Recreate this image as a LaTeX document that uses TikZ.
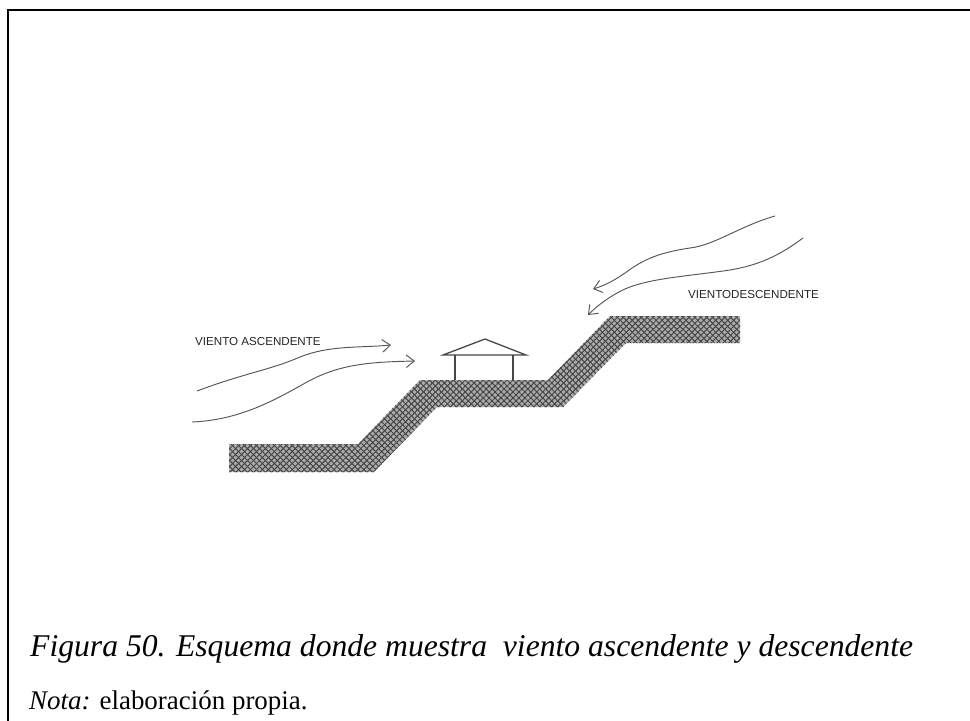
\documentclass[tikz,border=0pt]{standalone}
\usepackage{fontspec}
\setmainfont{Liberation Serif}
\setsansfont{Liberation Sans}
\usetikzlibrary{arrows.meta,patterns.meta}
\definecolor{soil}{HTML}{ABABAB}
\definecolor{weave}{HTML}{454545}
\definecolor{windline}{HTML}{555555}
\definecolor{hut}{HTML}{474747}

\begin{document}
\begin{tikzpicture}[
    x=0.03cm, y=-0.03cm,
    wind/.style={windline, line width=0.8pt,
                 -{Straight Barb[length=2.4mm,width=3.8mm,line width=0.8pt]}},
    hatchA/.style={pattern={Lines[angle=45,distance=3.6pt,line width=0.85pt]}, pattern color=weave},
    hatchB/.style={pattern={Lines[angle=-45,distance=3.6pt,line width=0.85pt]}, pattern color=weave},
    hutline/.style={hut, line width=1.1pt},
    windlabel/.style={font=\sffamily\fontsize{9.9}{11}\selectfont, inner sep=0pt,
                      anchor=west, text=black!85},
    frameline/.style={black, line width=1.7pt}
]

\useasboundingbox (0,0) rectangle (970,720);
\fill[white] (0,0) rectangle (970,720);
\draw[frameline] (8,721) -- (8,10) -- (971,10);

% terrain: lower terrace, slope, middle terrace, slope, upper terrace
\def\terrain{(229,444) -- (358,444) -- (420,380) -- (548,380) -- (610,316)
    -- (740,316) -- (740,343) -- (626,343) -- (563,407) -- (437,407)
    -- (374,472) -- (229,472) -- cycle}
\fill[soil] \terrain;
\fill[hatchA] \terrain;
\fill[hatchB] \terrain;

% little shelter on the middle terrace
\draw[hutline] (443,355) -- (485,339) -- (526,355) -- cycle;
\foreach \px in {455,513}{
    \draw[hutline] (\px,355) -- (\px,380);
}

% rising air on the left
\draw[wind] (197,391) .. controls (245,373) and (270,370) .. (300,357)
    .. controls (330,345) and (360,348) .. (391,345);
\draw[wind] (192,422) .. controls (240,420) and (275,400) .. (307,382)
    .. controls (340,364) and (370,362) .. (415,361);
\node[windlabel] (ascLabel) at (195,341.5) {VIENTO ASCENDENTE};

% falling air on the right
\draw[wind] (775,216) .. controls (740,226) and (715,245) .. (690,248)
    .. controls (655,253) and (640,262) .. (625,273)
    .. controls (612,282) and (603,286) .. (593,289);
\draw[wind] (803,238) .. controls (780,255) and (760,265) .. (730,270)
    .. controls (690,276) and (650,278) .. (625,289)
    .. controls (610,296) and (598,305) .. (588,315);
\node[windlabel] (descLabel) at (688,294.5) {VIENTODESCENDENTE};

\node[anchor=base west, inner sep=0pt, font=\fontsize{27}{30}\selectfont\itshape]
    (caption) at (30,656) {Figura 50. Esquema donde muestra\ \ viento ascendente y descendente};
\node[anchor=base west, inner sep=0pt, font=\fontsize{23}{26}\selectfont]
    (nota) at (29,709) {\textit{Nota:} elaboración propia.};

\end{tikzpicture}
\end{document}
